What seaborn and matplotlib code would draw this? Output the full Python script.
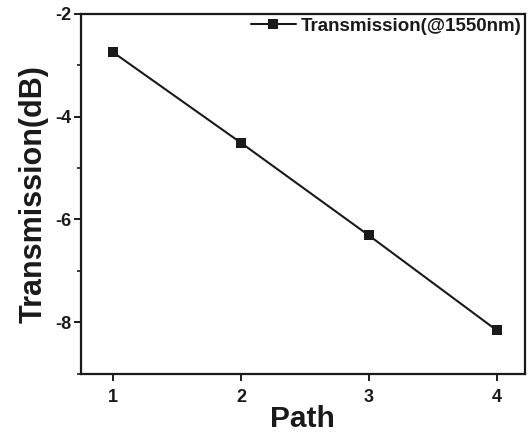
import matplotlib
matplotlib.use("Agg")
import matplotlib.pyplot as plt
import seaborn as sns
import pandas as pd
from matplotlib.ticker import MultipleLocator

# Measured transmission at 1550 nm for each path
paths = [1, 2, 3, 4]
transmission_db = [-2.75, -4.51, -6.31, -8.155]
series_label = "Transmission(@1550nm)"

df = pd.DataFrame({"Path": paths, "Transmission": transmission_db})

sns.set_style("ticks")
plt.rcParams["font.family"] = ["Liberation Sans", "DejaVu Sans"]
plt.rcParams["font.weight"] = "bold"
plt.rcParams["axes.unicode_minus"] = False

fig = plt.figure(figsize=(5.29, 4.34), dpi=100)
ax = fig.add_axes([0.153, 0.139, 0.839, 0.829])

sns.lineplot(data=df, x="Path", y="Transmission", ax=ax, color="#1a1a1a",
             marker="s", markersize=6.5, markeredgewidth=0, linewidth=1.5,
             label=series_label)

ax.set_xlim(0.747, 4.22)
ax.set_ylim(-9, -2)
ax.xaxis.set_major_locator(MultipleLocator(1))
ax.yaxis.set_major_locator(MultipleLocator(2))
ax.yaxis.set_minor_locator(MultipleLocator(1))

for s in ax.spines.values():
    s.set_linewidth(1.6)
    s.set_color("#1a1a1a")

ax.tick_params(axis="both", which="major", direction="out", length=5, width=1.4,
               labelsize=13, colors="#1a1a1a")
ax.tick_params(axis="x", which="major", pad=6)
ax.tick_params(axis="y", which="major", pad=2)
ax.tick_params(axis="y", which="minor", direction="out", length=3, width=1.2,
               colors="#1a1a1a")
for lbl in ax.get_xticklabels() + ax.get_yticklabels():
    lbl.set_fontweight("bold")

ax.set_xlabel("Path", fontsize=21.5, fontweight="bold", color="#1a1a1a", labelpad=-1)
ax.set_ylabel("Transmission(dB)", fontsize=22, fontweight="bold", color="#1a1a1a", labelpad=5)

leg = ax.legend(loc="upper right", frameon=False, fontsize=13.5, handlelength=2.4,
                handletextpad=0.25, borderaxespad=0.0, borderpad=0.2)
for t in leg.get_texts():
    t.set_fontweight("bold")
    t.set_color("#1a1a1a")

fig.savefig("out.png", dpi=100)
